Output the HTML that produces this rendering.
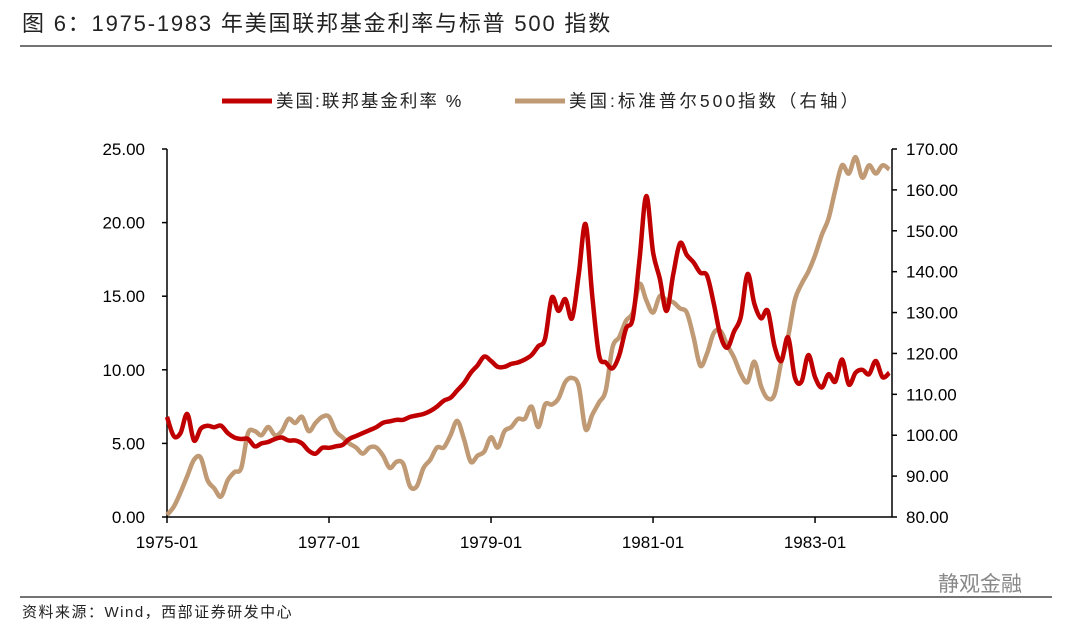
<!DOCTYPE html>
<html><head><meta charset="utf-8">
<style>
body{margin:0;background:#fff;width:1080px;height:633px;overflow:hidden;font-family:"Liberation Sans","Noto Sans CJK SC",sans-serif;}
</style></head>
<body>
<svg width="1080" height="633" xmlns="http://www.w3.org/2000/svg">
<text x="22" y="31" font-size="22" letter-spacing="1.8" fill="#222" font-family="Liberation Sans,Noto Sans CJK SC,sans-serif">图 6：1975-1983 年美国联邦基金利率与标普 500 指数</text>
<line x1="20" y1="46" x2="1052" y2="46" stroke="#222" stroke-width="1.2"/>
<g>
<line x1="222" y1="101" x2="272" y2="101" stroke="#c00000" stroke-width="5"/>
<text x="276" y="107" font-size="17.5" letter-spacing="2" fill="#222">美国:联邦基金利率 %</text>
<line x1="515" y1="101" x2="565" y2="101" stroke="#bf9a74" stroke-width="5"/>
<text x="569" y="107" font-size="17.5" letter-spacing="3" fill="#222">美国:标准普尔500指数（右轴）</text>
</g>
<g id="axes"></g>
<g id="series"></g>
<line x1="20" y1="597" x2="1052" y2="597" stroke="#222" stroke-width="1.2"/>
<text x="22" y="617" font-size="15" letter-spacing="1.5" fill="#222">资料来源：Wind，西部证券研发中心</text>
<text x="938" y="591" font-size="21" fill="#888">静观金融</text>
</svg>
<script>
const leftTicks=[0,5,10,15,20,25];
const rightTicks=[80,90,100,110,120,130,140,150,160,170];
const xTickLabels=["1975-01","1977-01","1979-01","1981-01","1983-01"];
const xTickMonths=[0,24,48,72,96];
const fedFunds=[6.8,5.5,5.7,7.0,5.2,6.0,6.2,6.1,6.2,5.7,5.4,5.3,5.3,4.8,5.0,5.1,5.3,5.4,5.2,5.2,5.0,4.5,4.3,4.7,4.7,4.8,4.9,5.3,5.5,5.7,5.9,6.1,6.4,6.5,6.6,6.6,6.8,6.9,7.0,7.2,7.5,7.9,8.1,8.6,9.1,9.8,10.3,10.9,10.6,10.2,10.2,10.4,10.5,10.7,11.0,11.6,12.1,14.9,14.0,14.8,13.5,16.5,19.9,15.0,11.0,10.5,10.1,11.0,12.8,13.5,17.5,21.8,18.0,16.2,14.0,16.5,18.6,17.8,17.3,16.6,16.4,14.5,12.3,11.5,12.6,13.6,16.5,14.5,13.5,14.0,11.6,10.6,12.2,9.5,9.2,11.0,9.5,8.8,9.7,9.2,10.7,9.0,9.8,10.0,9.7,10.6,9.5,9.8];
const sp500=[80.5,82.5,86,90,94,94.5,89,87,85,89,91,92,100.5,101,100,102,100,101,104,103,104.5,101,103,104.5,104.5,101,99.5,98,97,95.5,97,97,95,92,93.5,93,87.5,87.5,92,94,97,97,100,103.5,99,93.5,95,96,99.5,97,101,102,104,104,107,102,107.5,107.5,109,113,114,112,101.5,105,108,111,121.5,124,128,130,137,133,130,134,133,132.5,131,130,124,117,120,125,125.5,122,119,115,113,118,112,109,110,118,124,133,137,140,144,149,153,160,166,164,168,163,166,164,166,165];
const X0=167,X1=892,Y0=517,Y1=149,NM=107.4;
const xs=i=>X0+(X1-X0)*i/NM;
const yl=v=>Y0-(Y0-Y1)*v/25;
const yr=v=>Y0-(Y0-Y1)*(v-80)/90;
const NS="http://www.w3.org/2000/svg";
const ax=document.getElementById('axes'),se=document.getElementById('series');
function mk(tag,attrs,parent){const e=document.createElementNS(NS,tag);for(const k in attrs)e.setAttribute(k,attrs[k]);parent.appendChild(e);return e;}
let e;
e=mk('line',{x1:X0,y1:Y1,x2:X0,y2:Y0,stroke:'#000','stroke-width':1.5},ax);


e=mk('line',{x1:X1,y1:Y1,x2:X1,y2:Y0,stroke:'#000','stroke-width':1.5},ax);


e=mk('line',{x1:X0,y1:Y0,x2:X1,y2:Y0,stroke:'#000','stroke-width':1.5},ax);


leftTicks.forEach(v=>{const y=yl(v);
 e=mk('line',{x1:X0-5,y1:y,x2:X0,y2:y,stroke:'#000','stroke-width':1.5},ax);
 
 
 e=mk('text',{x:X0-22,y:y+6,'font-size':17,'text-anchor':'end',fill:'#000'},ax);e.textContent=v.toFixed(2);
 
 
});
rightTicks.forEach(v=>{const y=yr(v);
 e=mk('line',{x1:X1,y1:y,x2:X1+5,y2:y,stroke:'#000','stroke-width':1.5},ax);
 
 
 e=mk('text',{x:X1+14,y:y+6,'font-size':17,fill:'#000'},ax);e.textContent=v.toFixed(2);
 
 
});
xTickMonths.forEach((m,k)=>{const x=xs(m);
 e=mk('line',{x1:x,y1:Y0,x2:x,y2:Y0+6,stroke:'#000','stroke-width':1.5},ax);
 
 
 e=mk('text',{x:x,y:Y0+31,'font-size':17,'text-anchor':'middle',fill:'#000'},ax);e.textContent=xTickLabels[k];
 
 
});
function smooth(pts){let d='M'+pts[0][0]+','+pts[0][1];
 for(let i=0;i<pts.length-1;i++){const p0=pts[i-1]||pts[i],p1=pts[i],p2=pts[i+1],p3=pts[i+2]||p2;
  d+=' C'+(p1[0]+(p2[0]-p0[0])/6)+','+(p1[1]+(p2[1]-p0[1])/6)+' '+(p2[0]-(p3[0]-p1[0])/6)+','+(p2[1]-(p3[1]-p1[1])/6)+' '+p2[0]+','+p2[1];}
 return d;}
e=mk('path',{d:smooth(sp500.map((v,i)=>[xs(i),yr(v)])),fill:'none',stroke:'#bf9a74','stroke-width':4.5,'stroke-linejoin':'round'},se);


e=mk('path',{d:smooth(fedFunds.map((v,i)=>[xs(i),yl(v)])),fill:'none',stroke:'#c00000','stroke-width':4.5,'stroke-linejoin':'round'},se);


</script>
</body></html>
